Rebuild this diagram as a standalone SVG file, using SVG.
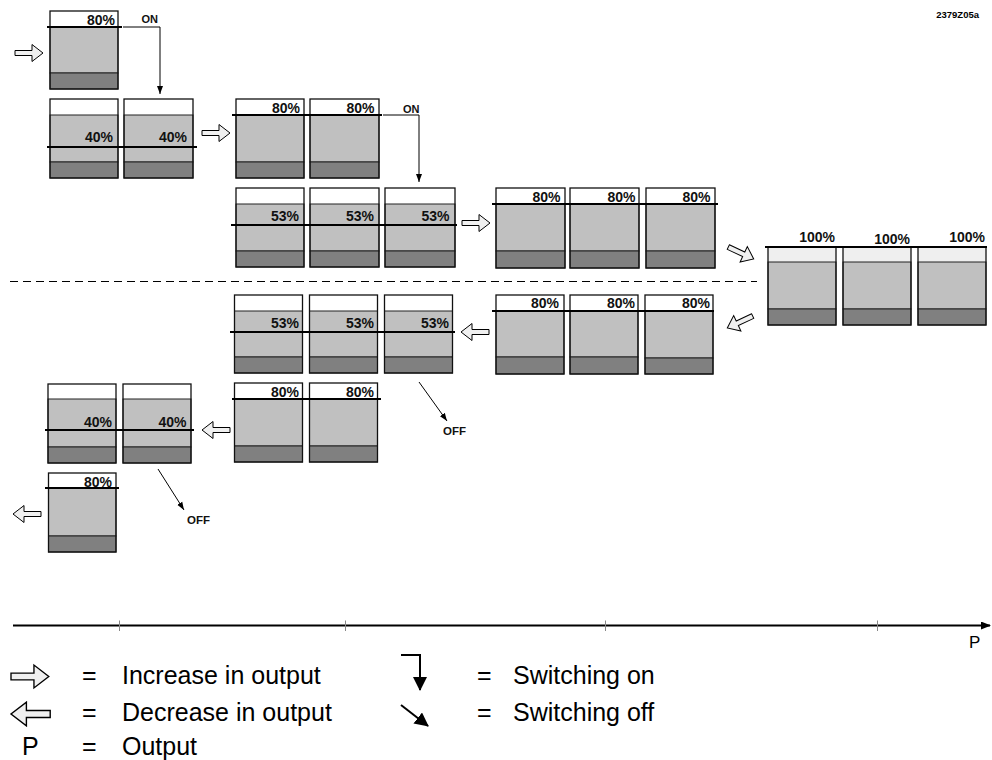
<svg xmlns="http://www.w3.org/2000/svg" width="992" height="760" viewBox="0 0 992 760">
<style>
.w{fill:#fff}
.wl{fill:#efefef}
.g{fill:#c0c0c0;stroke:#222;stroke-width:1}
.d{fill:#808080;stroke:#222;stroke-width:1}
.o{fill:none;stroke:#111;stroke-width:1.3}
.lv{stroke:#000;stroke-width:2;fill:none}
.pct{font-family:"Liberation Sans",Arial,sans-serif;font-weight:bold;font-size:14px;text-anchor:end;fill:#111}
.sm{font-family:"Liberation Sans",Arial,sans-serif;font-weight:bold;font-size:11px;fill:#111}
.blk{fill:#f0f0f0;stroke:#000;stroke-width:1;vector-effect:non-scaling-stroke}
.cn{stroke:#000;stroke-width:1;fill:none}
.leg{font-family:"Liberation Sans",Arial,sans-serif;font-size:25px;fill:#000}
.tk{stroke:#888;stroke-width:1}
</style>
<defs>
<path id="ra" d="M0,-2.5 H17 V-8.5 L28,0 L17,8.5 V2.5 H0 Z"/>
<path id="la" d="M28,-2.5 H11 V-8.5 L0,0 L11,8.5 V2.5 H28 Z"/>
<marker id="ah" markerUnits="userSpaceOnUse" markerWidth="8" markerHeight="8" viewBox="0 0 8 8" refX="8" refY="4" orient="auto"><path d="M0,1 L8,4 L0,7 Z" fill="#000"/></marker>
<marker id="ahl" markerUnits="userSpaceOnUse" markerWidth="14" markerHeight="14" viewBox="0 0 14 14" refX="13" refY="7" orient="auto"><path d="M0,0 L14,7 L0,14 Z" fill="#000"/></marker>
<marker id="ax" markerUnits="userSpaceOnUse" markerWidth="10" markerHeight="8" viewBox="0 0 10 8" refX="9" refY="4" orient="auto"><path d="M0,0 L10,4 L0,8 Z" fill="#000"/></marker>
</defs>

<text x="979" y="18" style="font-family:'Liberation Sans',Arial,sans-serif;font-weight:bold;font-size:9.5px;text-anchor:end">2379Z05a</text>

<!-- Stage A -->
<g id="stageA">
<g id="a1"><rect class="w" x="50" y="11" width="68" height="78"/><rect class="g" x="50" y="27" width="68" height="46"/><rect class="d" x="50" y="73" width="68" height="16"/><rect class="o" x="50" y="11" width="68" height="78"/><text class="pct" x="115" y="25">80%</text></g>
<line class="lv" x1="47" y1="27" x2="122" y2="27"/>
</g>

<!-- Stage B -->
<g id="stageB">
<g id="b1"><rect class="w" x="50" y="99" width="68" height="79"/><rect class="g" x="50" y="115" width="68" height="47"/><rect class="d" x="50" y="162" width="68" height="16"/><rect class="o" x="50" y="99" width="68" height="79"/><text class="pct" x="113" y="141.5">40%</text></g>
<g id="b2"><rect class="w" x="124" y="99" width="69" height="79"/><rect class="g" x="124" y="115" width="69" height="47"/><rect class="d" x="124" y="162" width="69" height="16"/><rect class="o" x="124" y="99" width="69" height="79"/><text class="pct" x="187" y="141.5">40%</text></g>
<line class="lv" x1="47" y1="147" x2="197" y2="147"/>
</g>

<!-- Stage C -->
<g id="stageC">
<g id="c1"><rect class="w" x="236" y="99" width="68" height="79"/><rect class="g" x="236" y="115" width="68" height="47"/><rect class="d" x="236" y="162" width="68" height="16"/><rect class="o" x="236" y="99" width="68" height="79"/><text class="pct" x="300" y="112.5">80%</text></g>
<g id="c2"><rect class="w" x="310" y="99" width="69" height="79"/><rect class="g" x="310" y="115" width="69" height="47"/><rect class="d" x="310" y="162" width="69" height="16"/><rect class="o" x="310" y="99" width="69" height="79"/><text class="pct" x="374.5" y="112.5">80%</text></g>
<line class="lv" x1="232" y1="115" x2="382" y2="115"/>
</g>

<!-- Stage D -->
<g id="stageD">
<g id="d1"><rect class="w" x="236" y="188" width="68" height="79"/><rect class="g" x="236" y="204" width="68" height="47"/><rect class="d" x="236" y="251" width="68" height="16"/><rect class="o" x="236" y="188" width="68" height="79"/><text class="pct" x="299" y="221">53%</text></g>
<g id="d2"><rect class="w" x="310" y="188" width="69" height="79"/><rect class="g" x="310" y="204" width="69" height="47"/><rect class="d" x="310" y="251" width="69" height="16"/><rect class="o" x="310" y="188" width="69" height="79"/><text class="pct" x="374" y="221">53%</text></g>
<g id="d3"><rect class="w" x="385" y="188" width="70" height="79"/><rect class="g" x="385" y="204" width="70" height="47"/><rect class="d" x="385" y="251" width="70" height="16"/><rect class="o" x="385" y="188" width="70" height="79"/><text class="pct" x="449.5" y="221">53%</text></g>
<line class="lv" x1="231" y1="225" x2="457" y2="225"/>
</g>

<!-- Stage E -->
<g id="stageE">
<g id="e1"><rect class="w" x="496" y="188" width="69" height="80"/><rect class="g" x="496" y="204" width="69" height="47"/><rect class="d" x="496" y="251" width="69" height="17"/><rect class="o" x="496" y="188" width="69" height="80"/><text class="pct" x="560.5" y="201.5">80%</text></g>
<g id="e2"><rect class="w" x="570" y="188" width="69" height="80"/><rect class="g" x="570" y="204" width="69" height="47"/><rect class="d" x="570" y="251" width="69" height="17"/><rect class="o" x="570" y="188" width="69" height="80"/><text class="pct" x="635.5" y="201.5">80%</text></g>
<g id="e3"><rect class="w" x="646" y="188" width="69" height="80"/><rect class="g" x="646" y="204" width="69" height="47"/><rect class="d" x="646" y="251" width="69" height="17"/><rect class="o" x="646" y="188" width="69" height="80"/><text class="pct" x="710.5" y="201.5">80%</text></g>
<line class="lv" x1="492" y1="204" x2="718" y2="204"/>
</g>

<!-- Stage F -->
<g id="stageF">
<g id="f1"><rect class="wl" x="768" y="247" width="68" height="78"/><rect class="g" x="768" y="262" width="68" height="47"/><rect class="d" x="768" y="309" width="68" height="16"/><rect class="o" x="768" y="247" width="68" height="78"/><text class="pct" x="835" y="242">100%</text></g>
<g id="f2"><rect class="wl" x="843" y="247" width="68" height="78"/><rect class="g" x="843" y="262" width="68" height="47"/><rect class="d" x="843" y="309" width="68" height="16"/><rect class="o" x="843" y="247" width="68" height="78"/><text class="pct" x="910" y="244">100%</text></g>
<g id="f3"><rect class="wl" x="918" y="247" width="68" height="78"/><rect class="g" x="918" y="262" width="68" height="47"/><rect class="d" x="918" y="309" width="68" height="16"/><rect class="o" x="918" y="247" width="68" height="78"/><text class="pct" x="985" y="242">100%</text></g>
<line class="lv" x1="765" y1="247" x2="987" y2="247"/>
</g>

<!-- Stage G -->
<g id="stageG">
<g id="g1"><rect class="w" x="234.5" y="295" width="68" height="78"/><rect class="g" x="234.5" y="311" width="68" height="46"/><rect class="d" x="234.5" y="357" width="68" height="16"/><rect class="o" x="234.5" y="295" width="68" height="78"/><text class="pct" x="299" y="328">53%</text></g>
<g id="g2"><rect class="w" x="309.5" y="295" width="68" height="78"/><rect class="g" x="309.5" y="311" width="68" height="46"/><rect class="d" x="309.5" y="357" width="68" height="16"/><rect class="o" x="309.5" y="295" width="68" height="78"/><text class="pct" x="374" y="328">53%</text></g>
<g id="g3"><rect class="w" x="384.5" y="295" width="68" height="78"/><rect class="g" x="384.5" y="311" width="68" height="46"/><rect class="d" x="384.5" y="357" width="68" height="16"/><rect class="o" x="384.5" y="295" width="68" height="78"/><text class="pct" x="449" y="328">53%</text></g>
<line class="lv" x1="230" y1="332" x2="455" y2="332"/>
</g>

<!-- Stage H -->
<g id="stageH">
<g id="h1"><rect class="w" x="496" y="295" width="68" height="79"/><rect class="g" x="496" y="311" width="68" height="46"/><rect class="d" x="496" y="357" width="68" height="17"/><rect class="o" x="496" y="295" width="68" height="79"/><text class="pct" x="559" y="308">80%</text></g>
<g id="h2"><rect class="w" x="570" y="295" width="68" height="79"/><rect class="g" x="570" y="311" width="68" height="46"/><rect class="d" x="570" y="357" width="68" height="17"/><rect class="o" x="570" y="295" width="68" height="79"/><text class="pct" x="635" y="308">80%</text></g>
<g id="h3"><rect class="w" x="645" y="295" width="68" height="79"/><rect class="g" x="645" y="311" width="68" height="47"/><rect class="d" x="645" y="358" width="68" height="16"/><rect class="o" x="645" y="295" width="68" height="79"/><text class="pct" x="710" y="308">80%</text></g>
<line class="lv" x1="492" y1="311" x2="714" y2="311"/>
</g>

<!-- Stage I -->
<g id="stageI">
<g id="i1"><rect class="w" x="234.5" y="383" width="68" height="79"/><rect class="g" x="234.5" y="399" width="68" height="47"/><rect class="d" x="234.5" y="446" width="68" height="16"/><rect class="o" x="234.5" y="383" width="68" height="79"/><text class="pct" x="299" y="396.5">80%</text></g>
<g id="i2"><rect class="w" x="309.5" y="383" width="68" height="79"/><rect class="g" x="309.5" y="399" width="68" height="47"/><rect class="d" x="309.5" y="446" width="68" height="16"/><rect class="o" x="309.5" y="383" width="68" height="79"/><text class="pct" x="374" y="396.5">80%</text></g>
<line class="lv" x1="232" y1="399" x2="381" y2="399"/>
</g>

<!-- Stage J -->
<g id="stageJ">
<g id="j1"><rect class="w" x="48" y="384" width="68" height="79"/><rect class="g" x="48" y="399" width="68" height="48"/><rect class="d" x="48" y="447" width="68" height="16"/><rect class="o" x="48" y="384" width="68" height="79"/><text class="pct" x="112" y="426.5">40%</text></g>
<g id="j2"><rect class="w" x="123" y="384" width="68" height="79"/><rect class="g" x="123" y="399" width="68" height="48"/><rect class="d" x="123" y="447" width="68" height="16"/><rect class="o" x="123" y="384" width="68" height="79"/><text class="pct" x="186.5" y="426.5">40%</text></g>
<line class="lv" x1="45" y1="430" x2="194" y2="430"/>
</g>

<!-- Stage K -->
<g id="stageK">
<g id="k1"><rect class="w" x="48.5" y="473" width="67.5" height="79"/><rect class="g" x="48.5" y="488" width="67.5" height="48"/><rect class="d" x="48.5" y="536" width="67.5" height="16"/><rect class="o" x="48.5" y="473" width="67.5" height="79"/><text class="pct" x="112" y="486.5">80%</text></g>
<line class="lv" x1="45" y1="488" x2="119" y2="488"/>
</g>

<!-- Connectors -->
<g id="connectors">
<use href="#ra" class="blk" transform="translate(15,53)"/>
<use href="#ra" class="blk" transform="translate(202,133)"/>
<use href="#ra" class="blk" transform="translate(462,223)"/>
<use href="#ra" class="blk" transform="translate(741,253) rotate(25) translate(-14,0)"/>
<use href="#la" class="blk" transform="translate(740,322) rotate(-25) translate(-14,0)"/>
<use href="#la" class="blk" transform="translate(461,332)"/>
<use href="#la" class="blk" transform="translate(202,430)"/>
<use href="#la" class="blk" transform="translate(13,514)"/>

<path class="cn" d="M123,27 H160 V94" marker-end="url(#ah)"/>
<text class="sm" x="141.5" y="23">ON</text>
<path class="cn" d="M383,115 H419 V182" marker-end="url(#ah)"/>
<text class="sm" x="403" y="112.5">ON</text>
<line class="cn" x1="419" y1="382" x2="447" y2="421" marker-end="url(#ah)"/>
<text class="sm" x="443" y="435" style="font-size:11.5px">OFF</text>
<line class="cn" x1="158" y1="469" x2="184" y2="510" marker-end="url(#ah)"/>
<text class="sm" x="187" y="524" style="font-size:11.5px">OFF</text>

<line x1="10" y1="281.5" x2="757" y2="281.5" stroke="#000" stroke-width="1" stroke-dasharray="8 5"/>
</g>

<!-- Axis -->
<g id="axis">
<line x1="13" y1="625.5" x2="990" y2="625.5" stroke="#000" stroke-width="2" marker-end="url(#ax)"/>
<line class="tk" x1="119.5" y1="620.5" x2="119.5" y2="631"/>
<line class="tk" x1="345.5" y1="620.5" x2="345.5" y2="631"/>
<line class="tk" x1="605.5" y1="620.5" x2="605.5" y2="631"/>
<line class="tk" x1="877.5" y1="620.5" x2="877.5" y2="631"/>
<text x="969" y="648" style="font-family:'Liberation Sans',Arial,sans-serif;font-size:17px">P</text>
</g>

<!-- Legend -->
<g id="legend">
<use href="#ra" class="blk" transform="translate(11,676.5) scale(1.35)"/>
<text class="leg" x="82" y="684">=</text>
<text class="leg" x="122" y="684">Increase in output</text>
<use href="#la" class="blk" transform="translate(11,714) scale(1.4)"/>
<text class="leg" x="82" y="721">=</text>
<text class="leg" x="122" y="721">Decrease in output</text>
<text class="leg" x="22" y="755">P</text>
<text class="leg" x="82" y="755">=</text>
<text class="leg" x="122" y="755">Output</text>

<path d="M401,655 H420 V690" stroke="#000" stroke-width="2" fill="none" marker-end="url(#ahl)"/>
<text class="leg" x="477" y="684">=</text>
<text class="leg" x="513" y="684">Switching on</text>
<line x1="401" y1="705" x2="428" y2="726" stroke="#000" stroke-width="2" marker-end="url(#ahl)"/>
<text class="leg" x="477" y="721">=</text>
<text class="leg" x="513" y="721">Switching off</text>
</g>
</svg>
